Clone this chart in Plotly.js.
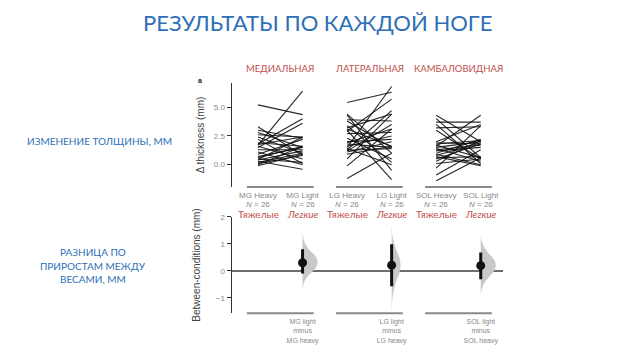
<!DOCTYPE html>
<html>
<head>
<meta charset="utf-8">
<script src="https://cdn.plot.ly/plotly-3.0.1.min.js"></script>
<style>html,body{margin:0;padding:0;background:#fff;}#chart{width:640px;height:360px;}</style>
</head>
<body>
<div id="chart"></div>
<script>
// ---------- data ----------
const categories = ['MG Heavy', 'MG Light', 'LG Heavy', 'LG Light', 'SOL Heavy', 'SOL Light'];
const nLabels = ['N = 26', 'N = 26', 'N = 26', 'N = 26', 'N = 26', 'N = 26'];
const ruLabels = ['Тяжелые', 'Легкие', 'Тяжелые', 'Легкие', 'Тяжелые', 'Легкие'];
const groupNames = ['МЕДИАЛЬНАЯ', 'ЛАТЕРАЛЬНАЯ', 'КАМБАЛОВИДНАЯ'];
const diffTop = ['MG light', 'LG light', 'SOL light'];
const diffMid = ['minus', 'minus', 'minus'];
const diffBottom = ['MG heavy', 'LG heavy', 'SOL heavy'];

const mgHeavy = [5.2, 3.3, 3.0, 2.8, 2.6, 2.4, 2.2, 1.9, 1.8, 1.75, 1.7, 1.6, 1.5, 1.3, 1.1, 0.9, 0.7, 0.6, 0.5, 0.45, 0.4, 0.3, 0.2, 0.1, 0.0, -0.1];
const mgLight = [4.35, 0.8, 2.3, 1.5, 2.4, 1.0, 0.1, 1.6, 4.0, 2.4, 6.4, 0.5, 3.6, 1.3, 0.0, 2.2, 1.5, 1.6, 0.2, 2.4, 1.2, -0.4, 1.0, 0.8, 1.6, 0.9];
const lgHeavy = [5.4, 4.4, 4.3, 3.9, 3.8, 3.4, 3.2, 3.1, 3.0, 2.9, 2.7, 2.3, 2.0, 1.9, 1.8, 1.6, 1.5, 1.4, 1.3, 1.25, 1.2, 1.1, 0.9, 0.5, -0.1, -1.2];
const lgLight = [6.3, 1.0, -0.5, 3.8, 1.5, 0.2, 4.4, 1.6, -1.3, 5.7, 2.8, 0.5, 2.2, 3.1, 1.5, 2.5, 6.8, 0.0, 4.7, 1.4, 3.5, 2.0, 1.6, 4.4, 3.1, 1.0];
const solHeavy = [4.3, 4.0, 3.7, 3.5, 3.2, 3.0, 2.0, 1.9, 1.8, 1.7, 1.6, 1.5, 1.4, 1.3, 1.2, 1.0, 0.9, 0.8, 0.7, 0.6, 0.5, 0.3, 0.1, -0.3, -0.9, -1.4];
const solLight = [2.0, 0.6, 3.7, 0.1, 3.3, 0.5, 3.5, 1.8, 2.1, 0.6, 4.3, 2.0, 0.3, 1.7, 1.5, 2.2, 0.0, 1.9, -0.1, 0.7, 1.8, 2.1, 0.5, 3.4, 1.3, 0.6];

const effect = [0.30, 0.21, 0.19];
const ciLow = [-0.10, -0.57, -0.31];
const ciHigh = [0.80, 0.98, 0.68];

// bootstrap density outlines (y level, half width)
const mgDensY = [1.45, 1.2, 1.0, 0.8, 0.6, 0.45, 0.3, 0.15, 0.0, -0.2, -0.4, -0.7];
const mgDensW = [0, 0.02, 0.06, 0.14, 0.26, 0.32, 0.34, 0.31, 0.24, 0.12, 0.04, 0];
const lgDensY = [1.75, 1.4, 1.1, 0.8, 0.5, 0.2, -0.1, -0.4, -0.7, -1.0, -1.3, -1.55];
const lgDensW = [0, 0.01, 0.04, 0.1, 0.17, 0.2, 0.17, 0.1, 0.05, 0.02, 0.005, 0];
const solDensY = [1.35, 1.1, 0.9, 0.7, 0.5, 0.35, 0.19, 0.0, -0.2, -0.4, -0.6, -0.9];
const solDensW = [0, 0.02, 0.07, 0.15, 0.26, 0.32, 0.34, 0.3, 0.2, 0.1, 0.04, 0];

// ---------- build ----------
const L = 232, R = 503, W = R - L, H = 360;
const px = x => (x - L) / W;
const py = y => 1 - y / H;
const sansChart = 'Liberation Sans, Arial, sans-serif';
const sansSlide = 'Lato, Open Sans, sans-serif';
const blue = '#2E6FB7';
const red = '#C0504D';

const pairs = [[mgHeavy, mgLight], [lgHeavy, lgLight], [solHeavy, solLight]];
const traces = [];
pairs.forEach((p, g) => {
  const xs = [], ys = [];
  p[0].forEach((h, i) => { xs.push(2 * g, 2 * g + 1, null); ys.push(h, p[1][i], null); });
  traces.push({x: xs, y: ys, type: 'scatter', mode: 'lines', xaxis: 'x', yaxis: 'y',
    line: {color: 'rgba(15,15,15,0.9)', width: 1.1}, hoverinfo: 'skip', showlegend: false});
});

const dens = [[mgDensY, mgDensW], [lgDensY, lgDensW], [solDensY, solDensW]];
dens.forEach((d, g) => {
  const pos = 2 * g + 1;
  traces.push({x: d[1].map(w => pos + w), y: d[0], type: 'scatter', mode: 'lines',
    fill: 'toself', fillcolor: '#C9C9C9', line: {width: 0, shape: 'spline', color: '#C9C9C9'},
    xaxis: 'x2', yaxis: 'y2', hoverinfo: 'skip', showlegend: false});
});

traces.push({x: [1, 3, 5], y: effect, type: 'scatter', mode: 'markers', xaxis: 'x2', yaxis: 'y2',
  marker: {size: 9, color: '#111'},
  error_y: {type: 'data', symmetric: false, array: effect.map((e, i) => ciHigh[i] - e),
    arrayminus: effect.map((e, i) => e - ciLow[i]), thickness: 3, width: 0, color: '#111'},
  showlegend: false});

const annotations = [];
const ann = (o) => annotations.push(Object.assign({showarrow: false, xanchor: 'center', yanchor: 'middle'}, o));

ann({text: 'РЕЗУЛЬТАТЫ ПО КАЖДОЙ НОГЕ', xref: 'paper', yref: 'paper', x: px(317), y: py(22),
  font: {family: sansSlide, size: 22, color: blue}});
ann({text: 'ИЗМЕНЕНИЕ ТОЛЩИНЫ, ММ', xref: 'paper', yref: 'paper', x: px(99), y: py(141),
  font: {family: sansSlide, size: 10, color: blue}});
['РАЗНИЦА ПО', 'ПРИРОСТАМ МЕЖДУ', 'ВЕСАМИ, ММ'].forEach((t, i) => {
  ann({text: t, xref: 'paper', yref: 'paper', x: px(93), y: py(252 + 13.7 * i),
    font: {family: sansSlide, size: 10, color: blue}});
});
groupNames.forEach((t, g) => {
  ann({text: t, xref: 'x', yref: 'paper', x: 2 * g + 0.5, y: py(68),
    font: {family: sansSlide, size: 9.5, color: red}});
});
nLabels.forEach((t, i) => {
  ann({text: '<i>N</i>' + t.slice(1), xref: 'x', yref: 'paper', x: i, y: py(204.5),
    font: {family: sansChart, size: 8, color: '#888'}});
});
ruLabels.forEach((t, i) => {
  ann({text: i % 2 ? '<i>' + t + '</i>' : t, xref: 'x', yref: 'paper', x: i, y: py(213.8),
    font: {family: sansSlide, size: 10, color: red}});
});
ann({text: '<b>a</b>', xref: 'paper', yref: 'paper', x: px(200), y: py(80),
  font: {family: sansChart, size: 7, color: '#222'}});

const shapes = [];
[0, 1, 2].forEach(g => {
  shapes.push({type: 'line', xref: 'x', yref: 'y domain', x0: 2 * g - 0.25, x1: 2 * g + 1.25, y0: 0, y1: 0,
    line: {color: '#8a8a8a', width: 2}});
  shapes.push({type: 'line', xref: 'x2', yref: 'y2 domain', x0: 2 * g - 0.25, x1: 2 * g + 1.25, y0: 0, y1: 0,
    line: {color: '#8a8a8a', width: 2}});
});

const tickFont = {family: sansChart, size: 8, color: '#888'};
const layout = {
  width: 640, height: 360,
  margin: {l: L, r: 640 - R, t: 0, b: 0},
  paper_bgcolor: '#fff', plot_bgcolor: '#fff',
  showlegend: false,
  xaxis: {domain: [0, 1], anchor: 'y', range: [-0.584, 5.5], tickvals: [0, 1, 2, 3, 4, 5], ticktext: categories,
    showline: false, showgrid: false, zeroline: false, ticks: '', tickfont: tickFont, ticklabelstandoff: 2},
  yaxis: {domain: [py(187), py(83)], anchor: 'x', range: [-1.94, 7.1], tickvals: [0, 2.5, 5], ticktext: ['0.0', '2.5', '5.0'],
    showline: true, linecolor: '#333', linewidth: 1.5, ticks: 'outside', ticklen: 4, tickcolor: '#333', tickwidth: 1,
    showgrid: false, zeroline: false, tickfont: tickFont,
    title: {text: 'Δ thickness (mm)', font: {family: sansChart, size: 10, color: '#444'}, standoff: 7}},
  xaxis2: {domain: [0, 1], anchor: 'y2', range: [-0.584, 5.5], tickvals: [1, 3, 5],
    ticktext: diffTop.map((t, g) => t + '<br>' + diffMid[g] + '<br>' + diffBottom[g]),
    showline: false, showgrid: false, zeroline: false, ticks: '', tickfont: {family: sansChart, size: 7, color: '#888'},
    ticklabelstandoff: 3},
  yaxis2: {domain: [py(313.3), py(216.7)], anchor: 'x2', range: [-1.57, 2.0], tickvals: [-1, 0, 1, 2], ticktext: ['−1', '0', '1', '2'],
    showline: true, linecolor: '#333', linewidth: 1.5, ticks: 'outside', ticklen: 4, tickcolor: '#333', tickwidth: 1,
    showgrid: false, zeroline: true, zerolinecolor: '#6e6e6e', zerolinewidth: 1.5, tickfont: tickFont,
    title: {text: 'Between-conditions (mm)', font: {family: sansChart, size: 10, color: '#444'}, standoff: 13}},
  annotations: annotations,
  shapes: shapes
};

Plotly.newPlot('chart', traces, layout, {displayModeBar: false, staticPlot: true});
</script>
</body>
</html>
